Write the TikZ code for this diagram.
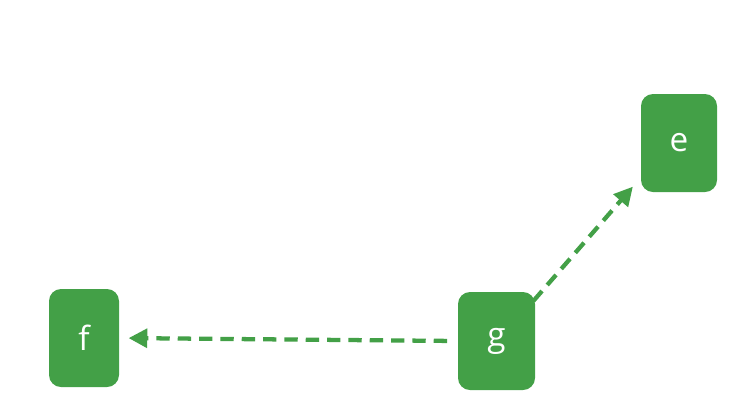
\documentclass[tikz,border=0pt]{standalone}
\usepackage{fontspec}
\setmainfont{Open Sans}
\usetikzlibrary{arrows.meta}
\definecolor{leafgreen}{HTML}{43A047}
\tikzset{
	box/.style={fill=leafgreen, rounded corners=9pt, minimum height=73.5pt, text=white, font=\fontsize{25}{30}\selectfont},
	link/.style={leafgreen, line width=3.2pt, dash pattern=on 10pt off 6pt, -{Triangle[length=14pt,width=14pt]}}
}
\begin{document}
	\begin{tikzpicture}[x=0.75pt,y=-0.75pt]
		\useasboundingbox (0,0) rectangle (739,412);

		\node[box, minimum width=57pt] (e) at (679,143) {e};
		\node[box, minimum width=52.5pt] (f) at (84,338) {f};
		\node[box, minimum width=57.75pt] (g) at (496.5,341) {g};

		\draw[link, shorten <=8pt, shorten >=7pt] (g.west) -- (f.east);
		\draw[link, shorten >=9pt] ([xshift=-1.5pt,yshift=-7pt]g.north east) -- ([yshift=11pt]e.south west);

	\end{tikzpicture}
\end{document}
